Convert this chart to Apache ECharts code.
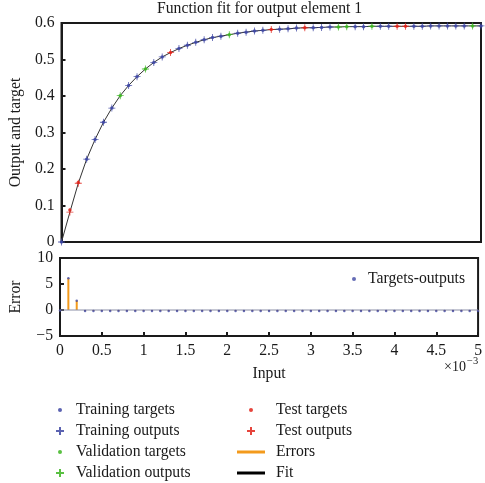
<!DOCTYPE html>
<html>
<head>
<meta charset="utf-8">
<script src="https://cdn.jsdelivr.net/npm/echarts@6/dist/echarts.min.js"></script>
<style>
  html, body { margin: 0; padding: 0; background: #fff; }
  #chart { width: 485px; height: 483px; }
</style>
</head>
<body>
<div id="chart"></div>
<script>
// Input samples (in units of 1e-3)
const inputs = [
  0.0, 0.1, 0.2, 0.3, 0.4, 0.5, 0.6, 0.7, 0.8, 0.9,
  1.0, 1.1, 1.2, 1.3, 1.4, 1.5, 1.6, 1.7, 1.8, 1.9,
  2.0, 2.1, 2.2, 2.3, 2.4, 2.5, 2.6, 2.7, 2.8, 2.9,
  3.0, 3.1, 3.2, 3.3, 3.4, 3.5, 3.6, 3.7, 3.8, 3.9,
  4.0, 4.1, 4.2, 4.3, 4.4, 4.5, 4.6, 4.7, 4.8, 4.9, 5.0
];
const targets = [
  0.000, 0.088, 0.163, 0.227, 0.281, 0.328, 0.367, 0.401, 0.429, 0.453,
  0.474, 0.492, 0.507, 0.519, 0.530, 0.539, 0.547, 0.554, 0.560, 0.564,
  0.568, 0.572, 0.575, 0.578, 0.580, 0.582, 0.583, 0.584, 0.586, 0.587,
  0.587, 0.588, 0.589, 0.589, 0.590, 0.590, 0.590, 0.591, 0.591, 0.591,
  0.591, 0.591, 0.591, 0.591, 0.592, 0.592, 0.592, 0.592, 0.592, 0.592, 0.592
];
const outputs = [
  0.000, 0.082, 0.161, 0.227, 0.281, 0.328, 0.367, 0.401, 0.429, 0.453,
  0.474, 0.492, 0.507, 0.519, 0.530, 0.539, 0.547, 0.554, 0.560, 0.564,
  0.568, 0.572, 0.575, 0.578, 0.580, 0.582, 0.583, 0.584, 0.586, 0.587,
  0.587, 0.588, 0.589, 0.589, 0.590, 0.590, 0.590, 0.591, 0.591, 0.591,
  0.591, 0.591, 0.591, 0.591, 0.592, 0.592, 0.592, 0.592, 0.592, 0.592, 0.592
];
// Targets minus outputs (scaled)
const errors = [
  -0.1, 6.1, 1.8, -0.2, -0.2, -0.2, -0.2, -0.2, -0.2, -0.2,
  -0.2, -0.2, -0.2, -0.2, -0.2, -0.2, -0.2, -0.2, -0.2, -0.2,
  -0.2, -0.2, -0.2, -0.2, -0.2, -0.2, -0.2, -0.2, -0.2, -0.2,
  -0.2, -0.2, -0.2, -0.2, -0.2, -0.2, -0.2, -0.2, -0.2, -0.2,
  -0.2, -0.2, -0.2, -0.2, -0.2, -0.2, -0.2, -0.2, -0.2, -0.2, -0.2
];
// Data split for each sample: R = training, V = validation, T = test
const subsets = [
  'R', 'T', 'T', 'R', 'R', 'R', 'R', 'V', 'R', 'R',
  'V', 'R', 'R', 'T', 'R', 'R', 'R', 'R', 'R', 'R',
  'V', 'R', 'R', 'R', 'R', 'T', 'R', 'R', 'R', 'T',
  'R', 'R', 'R', 'V', 'V', 'R', 'R', 'V', 'R', 'R',
  'T', 'T', 'R', 'R', 'R', 'R', 'R', 'R', 'R', 'V', 'R'
];
const yTopTicks = { min: 0, max: 0.6, step: 0.1 };
const yErrTicks = { min: -5, max: 10, step: 5 };
const xTicks = { min: 0, max: 5, step: 0.5 };

const FONT = '"Liberation Serif", "DejaVu Serif", serif';
const FS = 15.7;
const INK = '#1a1a1a';
const BLUE = '#3e47a3';
const GREEN = '#3cb521';
const RED = '#e2231a';
const ORANGE = '#f39a1c';

function pick(arr, tag) {
  const out = [];
  for (let i = 0; i < inputs.length; i++) {
    if (subsets[i] === tag) out.push([inputs[i], arr[i]]);
  }
  return out;
}

const PLUS = 'path://M0,4.4h10v1.2h-10zM4.4,0h1.2v10h-1.2z';

// Legend icons (bounding box sets the icon slot width)
const dotIcon = (w, c) => `path://M0,0M${w},14M${c - 2},7a2,2 0 1 0 4,0a2,2 0 1 0 -4,0z`;
const plusIcon = (w, c) => `path://M0,0M${w},14M${c - 1},3h2v3h3v2h-3v3h-2v-3h-3v-2h3z`;
const lineIcon = (w) => `path://M0,0M${w},14M0,5.5h28v3h-28z`;

const textStyle = { fontFamily: FONT, fontSize: FS, color: INK };
const legendText = { fontFamily: FONT, fontSize: FS, color: INK };

const chart = echarts.init(document.getElementById('chart'), null, { renderer: 'canvas' });

const targetSeries = (name, tag, color) => ({
  name, type: 'scatter', xAxisIndex: 0, yAxisIndex: 0,
  data: pick(targets, tag), symbol: 'circle', symbolSize: 3.5,
  itemStyle: { color, opacity: 0.85 }, z: 3, silent: true
});
const outputSeries = (name, tag, color) => ({
  name, type: 'scatter', xAxisIndex: 0, yAxisIndex: 0,
  data: pick(outputs, tag), symbol: PLUS, symbolSize: 7,
  itemStyle: { color, opacity: 0.85 }, z: 4, silent: true
});

chart.setOption({
  animation: false,
  backgroundColor: '#fff',
  title: {
    text: 'Function fit for output element 1',
    left: 157, top: 1, padding: 0,
    textStyle: { fontFamily: FONT, fontSize: FS, fontWeight: 'normal', color: INK }
  },
  grid: [
    { left: 59, top: 23, width: 422, height: 219, show: true, borderColor: INK, borderWidth: 2, backgroundColor: 'transparent' },
    { left: 59, top: 258, width: 422, height: 78, show: true, borderColor: INK, borderWidth: 2, backgroundColor: 'transparent' }
  ],
  xAxis: [
    {
      type: 'value', gridIndex: 0, min: xTicks.min, max: xTicks.max, interval: xTicks.step,
      axisLine: { onZero: false, lineStyle: { color: INK, width: 2 } },
      axisTick: { show: false }, axisLabel: { show: false }, splitLine: { show: false }
    },
    {
      type: 'value', gridIndex: 1, min: xTicks.min, max: xTicks.max, interval: xTicks.step,
      name: 'Input', nameLocation: 'middle', nameGap: 30,
      nameTextStyle: textStyle,
      axisLine: { onZero: false, lineStyle: { color: INK, width: 2 } },
      axisTick: { inside: true, length: 4, lineStyle: { color: INK, width: 2 } },
      axisLabel: Object.assign({ margin: 7 }, textStyle),
      splitLine: { show: false }
    }
  ],
  yAxis: [
    {
      type: 'value', gridIndex: 0, min: yTopTicks.min, max: yTopTicks.max, interval: yTopTicks.step,
      name: 'Output and target', nameLocation: 'middle', nameGap: 36, nameRotate: 90,
      nameTextStyle: textStyle,
      axisLine: { show: true, onZero: false, lineStyle: { color: INK, width: 2 } },
      axisTick: { show: true, inside: true, length: 4, lineStyle: { color: INK, width: 2 } },
      axisLabel: Object.assign({ margin: 7 }, textStyle),
      splitLine: { show: false }
    },
    {
      type: 'value', gridIndex: 1, min: yErrTicks.min, max: yErrTicks.max, interval: yErrTicks.step,
      name: 'Error', nameLocation: 'middle', nameGap: 36, nameRotate: 90,
      nameTextStyle: textStyle,
      axisLine: { show: true, onZero: false, lineStyle: { color: INK, width: 2 } },
      axisTick: { show: true, inside: true, length: 4, lineStyle: { color: INK, width: 2 } },
      axisLabel: Object.assign({ margin: 7, formatter: v => String(v).replace('-', '\u2212') }, textStyle),
      splitLine: { show: false }
    }
  ],
  legend: [
    {
      orient: 'vertical', left: 51, top: 402, height: 81, padding: 0, itemWidth: 20, itemHeight: 14, itemGap: 5,
      textStyle: legendText, selectedMode: false,
      data: [
        { name: 'Training targets', icon: dotIcon(20, 9) },
        { name: 'Training outputs', icon: plusIcon(20, 9) },
        { name: 'Validation targets', icon: dotIcon(20, 9) },
        { name: 'Validation outputs', icon: plusIcon(20, 9) }
      ]
    },
    {
      orient: 'vertical', left: 237, top: 402, height: 81, padding: 0, itemWidth: 34, itemHeight: 14, itemGap: 5,
      textStyle: legendText, selectedMode: false,
      data: [
        { name: 'Test targets', icon: dotIcon(34, 14) },
        { name: 'Test outputs', icon: plusIcon(34, 14) },
        { name: 'Errors', icon: lineIcon(34) },
        { name: 'Fit', icon: lineIcon(34) }
      ]
    },
    {
      orient: 'vertical', left: 343, top: 271, padding: 0, itemWidth: 20, itemHeight: 14,
      textStyle: legendText, selectedMode: false,
      data: [{ name: 'Targets-outputs', icon: dotIcon(20, 11) }]
    }
  ],
  graphic: [
    { type: 'text', x: 444, y: 367, style: { text: '\u00d710', font: '14px ' + FONT, fill: INK, verticalAlign: 'middle' } },
    { type: 'text', x: 467, y: 361, style: { text: '\u22123', font: '10.5px ' + FONT, fill: INK, verticalAlign: 'middle' } }
  ],
  series: [
    {
      name: 'Fit', type: 'line', xAxisIndex: 0, yAxisIndex: 0,
      data: inputs.map((x, i) => [x, outputs[i]]),
      showSymbol: false, symbol: 'none', color: '#000',
      lineStyle: { color: '#333', width: 1 }, itemStyle: { color: '#000' }, z: 2, silent: true
    },
    targetSeries('Training targets', 'R', BLUE),
    outputSeries('Training outputs', 'R', BLUE),
    targetSeries('Validation targets', 'V', GREEN),
    outputSeries('Validation outputs', 'V', GREEN),
    targetSeries('Test targets', 'T', RED),
    outputSeries('Test outputs', 'T', RED),
    {
      name: 'Errors', type: 'bar', xAxisIndex: 1, yAxisIndex: 1,
      data: inputs.map((x, i) => [x, errors[i]]),
      barWidth: 2, itemStyle: { color: ORANGE }, z: 2, silent: true
    },
    {
      name: 'zero', type: 'line', xAxisIndex: 1, yAxisIndex: 1,
      data: [[xTicks.min, 0], [xTicks.max, 0]], symbol: 'none',
      lineStyle: { color: '#8a8ea6', width: 1 }, z: 3, silent: true
    },
    {
      name: 'Targets-outputs', type: 'scatter', xAxisIndex: 1, yAxisIndex: 1,
      data: inputs.map((x, i) => [x, errors[i]]),
      symbol: 'circle', symbolSize: 2.5,
      itemStyle: { color: BLUE, opacity: 0.8 }, z: 4, silent: true
    }
  ]
});
</script>
</body>
</html>
